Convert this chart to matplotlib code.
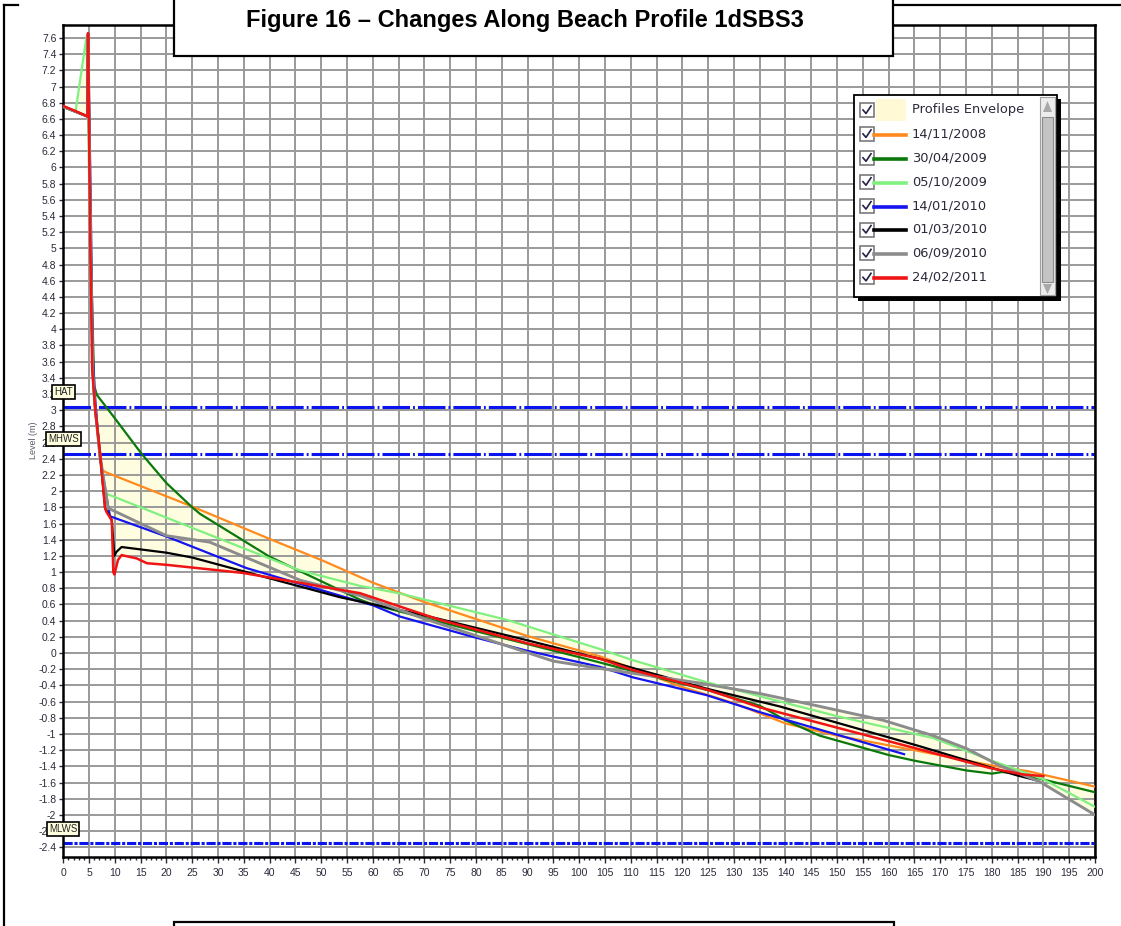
import numpy as np
import matplotlib
matplotlib.use("Agg")
import matplotlib.pyplot as plt
from matplotlib.patches import Rectangle, Polygon
from matplotlib.lines import Line2D
from matplotlib.ticker import MultipleLocator, FuncFormatter

# ---- profile data (chainage m, level m) ----
x_141108 = [0, 4.7, 4.8, 5.3, 5.8, 7.5, 8.4, 25, 40, 50, 60, 70, 90, 104, 120, 130, 140, 150, 165, 180, 187, 200]
y_141108 = [6.75, 6.63, 7.65, 5.0, 3.3, 2.26, 2.23, 1.81, 1.41, 1.15, 0.87, 0.63, 0.21, -0.04, -0.42, -0.62, -0.87, -1.02, -1.2, -1.39, -1.46, -1.65]

x_300409 = [0, 4.7, 4.8, 5.3, 6.0, 6.5, 10, 15.2, 20, 25, 26.5, 40, 57.5, 60, 80, 100, 115, 125, 135, 140, 146.6, 160, 165, 175, 180, 182, 186, 200]
y_300409 = [6.75, 6.63, 7.65, 5.0, 3.3, 3.19, 2.9, 2.46, 2.1, 1.8, 1.72, 1.19, 0.66, 0.6, 0.27, -0.05, -0.3, -0.46, -0.65, -0.83, -1.02, -1.26, -1.33, -1.45, -1.49, -1.47, -1.5, -1.72]

x_051009 = [0, 2.4, 4.5, 4.9, 5.5, 5.9, 7.0, 7.8, 8.7, 28.4, 45.9, 57.5, 65, 86, 104, 110, 124.7, 139, 150, 168.6, 179.6, 190, 200]
y_051009 = [6.75, 6.7, 7.62, 6.2, 4.0, 3.2, 2.45, 2.0, 1.96, 1.46, 1.02, 0.83, 0.74, 0.41, 0.05, -0.08, -0.36, -0.6, -0.78, -1.05, -1.32, -1.56, -1.9]

x_140110 = [0, 4.7, 4.8, 5.3, 5.7, 6.1, 7.1, 8.7, 9.05, 20, 35.5, 53.6, 60, 65.3, 79.4, 89.8, 104, 110.4, 124.7, 135, 163]
y_140110 = [6.75, 6.63, 7.65, 5.6, 3.7, 3.21, 2.42, 1.81, 1.69, 1.44, 1.05, 0.71, 0.59, 0.45, 0.2, 0.03, -0.17, -0.3, -0.52, -0.73, -1.25]

x_010310 = [0, 4.7, 4.8, 5.3, 5.7, 6.2, 7.1, 8.1, 9.4, 9.9, 10.3, 11.3, 20, 25, 35.5, 53.6, 69.7, 89.8, 104, 124.7, 138.9, 165.4, 184.8, 188.5]
y_010310 = [6.75, 6.63, 7.65, 5.2, 3.5, 3.0, 2.48, 1.79, 1.64, 1.2, 1.25, 1.31, 1.24, 1.18, 1.0, 0.69, 0.47, 0.16, -0.07, -0.44, -0.66, -1.14, -1.51, -1.57]

x_060910 = [0, 4.7, 4.8, 5.3, 5.7, 6.2, 7.1, 8.7, 20, 28.4, 45.9, 57.5, 69.7, 95, 104, 123.3, 135, 146, 158.9, 168.6, 175.1, 181.5, 189.3, 200]
y_060910 = [6.75, 6.63, 7.65, 5.2, 3.5, 3.0, 2.45, 1.79, 1.45, 1.37, 0.9, 0.71, 0.43, -0.1, -0.19, -0.37, -0.5, -0.65, -0.83, -1.02, -1.18, -1.39, -1.59, -2.0]

x_240211 = [0, 2.6, 4.7, 4.8, 5.2, 5.6, 6.2, 7.1, 8.1, 8.4, 9.4, 9.7, 9.9, 10.6, 11.3, 14.2, 16.2, 20, 30.4, 34.8, 57.5, 73, 90, 104, 110.4, 124.7, 135, 165.4, 179.6, 186, 190]
y_240211 = [6.76, 6.69, 6.63, 7.66, 5.2, 3.5, 3.0, 2.48, 1.79, 1.74, 1.64, 1.0, 0.97, 1.15, 1.21, 1.17, 1.11, 1.09, 1.02, 0.99, 0.74, 0.41, 0.12, -0.07, -0.21, -0.45, -0.67, -1.18, -1.42, -1.5, -1.52]

dates = ["14/11/2008", "30/04/2009", "05/10/2009", "14/01/2010",
         "01/03/2010", "06/09/2010", "24/02/2011"]
colors = ["#ff8a1e", "#0a780a", "#80f080", "#1414f0", "#000000", "#8c8c8c", "#f01414"]
widths = [1.6, 1.6, 1.6, 1.6, 1.6, 2.1, 1.8]
profiles = [(x_141108, y_141108), (x_300409, y_300409), (x_051009, y_051009),
            (x_140110, y_140110), (x_010310, y_010310), (x_060910, y_060910),
            (x_240211, y_240211)]

# tidal levels
tide_names = ["HAT", "MHWS", "MLWS"]
tide_levels = [3.04, 2.46, -2.35]

W, H = 1121, 926


def fx(px):
    return px / W


def fy(py):
    return 1 - py / H


fig = plt.figure(figsize=(W / 100, H / 100), dpi=100)
ax = fig.add_axes([fx(63.3), fy(857), (1095 - 63.3) / W, (857 - 25) / H])

# envelope of all profiles
grid = np.linspace(0, 200, 10001)
stack = []
for px_, py_ in profiles:
    v = np.interp(grid, px_, py_)
    v[(grid < px_[0]) | (grid > px_[-1])] = np.nan
    stack.append(v)
stack = np.array(stack)
ax.fill_between(grid, np.nanmin(stack, axis=0), np.nanmax(stack, axis=0),
                color="#fffde0", lw=0, zorder=1)

# tide lines
ax.axhline(tide_levels[0], color="#0a14f0", lw=2.2, ls=(0, (9, 1, 0.6, 1)), zorder=2)
ax.axhline(tide_levels[1], color="#0a14f0", lw=2.2, ls=(0, (9, 1, 0.6, 1)), zorder=2)
ax.axhline(tide_levels[2], color="#0a14f0", lw=2.2, ls=(0, (3, 0.6, 1, 0.6)), zorder=2)

for (px_, py_), c, lw in zip(profiles, colors, widths):
    ax.plot(px_, py_, color=c, lw=lw, zorder=3, solid_joinstyle="round")

ax.set_xlim(0, 200)
ax.set_ylim(-2.52, 7.76)
ax.xaxis.set_major_locator(MultipleLocator(5))
ax.xaxis.set_minor_locator(MultipleLocator(1))
ax.yaxis.set_major_locator(MultipleLocator(0.2))
ax.yaxis.set_major_formatter(FuncFormatter(lambda v, p: "%g" % (round(v, 1) + 0.0)))
ax.grid(True, which="major", color="#9a9a9a", lw=1.4)
ax.tick_params(axis="both", which="major", labelsize=7.5, colors="#2a2a3a",
               length=3, width=1, pad=2)
ax.tick_params(axis="x", which="minor", length=2.5, width=1, colors="#2a2a3a")
ax.tick_params(axis="x", which="major", length=4, pad=4)
for lab in ax.get_xticklabels() + ax.get_yticklabels():
    lab.set_family("Liberation Sans")
for s in ax.spines.values():
    s.set_linewidth(1.8)
    s.set_color("black")

# tide labels
for name, lev in zip(tide_names, tide_levels):
    ax.text(0.0, lev + 0.18, name, transform=ax.get_yaxis_transform(),
            ha="center", va="center", fontsize=7, family="Liberation Sans",
            color="#222222", zorder=6, clip_on=False,
            bbox=dict(boxstyle="square,pad=0.2", fc="#ffffe0", ec="black", lw=1.2))

fig.text(fx(33), fy(440), "Level (m)", rotation=90, ha="center", va="center",
         fontsize=6.5, color="#5a5a6a", family="Liberation Sans")

# page frame
fig.add_artist(Line2D([fx(4), fx(4)], [fy(5), fy(926)], color="black", lw=1.6))
fig.add_artist(Line2D([fx(4), fx(18)], [fy(5), fy(5)], color="black", lw=1.6))
fig.add_artist(Line2D([fx(893), fx(1121)], [fy(5), fy(5)], color="black", lw=1.6))

# title box
fig.add_artist(Rectangle((fx(174), fy(56)), fx(893) - fx(174), fy(-10) - fy(56),
                         fc="white", ec="black", lw=1.6, zorder=5))
fig.text(fx(525), fy(20), "Figure 16 \u2013 Changes Along Beach Profile 1dSBS3",
         ha="center", va="center", fontsize=17, fontweight="bold",
         family="Liberation Sans", zorder=6)

# bottom box
fig.add_artist(Rectangle((fx(174), fy(940)), fx(894) - fx(174), fy(922) - fy(940),
                         fc="white", ec="black", lw=1.6, zorder=5))

# legend panel
lx0, lx1, ly0, ly1 = 854, 1057, 95, 297
fig.add_artist(Rectangle((fx(lx0 + 4), fy(ly1 + 4)), fx(lx1) - fx(lx0), fy(ly0) - fy(ly1),
                         fc="black", ec="none", zorder=5))
fig.add_artist(Rectangle((fx(lx0), fy(ly1)), fx(lx1) - fx(lx0), fy(ly0) - fy(ly1),
                         fc="white", ec="black", lw=1.3, zorder=6))
# scrollbar
fig.add_artist(Rectangle((fx(1040), fy(295)), fx(1055) - fx(1040), fy(97) - fy(295),
                         fc="#ececec", ec="#a0a0a0", lw=0.8, zorder=7))
fig.add_artist(Rectangle((fx(1042), fy(282)), fx(1053) - fx(1042), fy(117) - fy(282),
                         fc="#c4c4c4", ec="#8c8c8c", lw=0.8, zorder=7))
fig.add_artist(Polygon([[fx(1043), fy(112)], [fx(1052), fy(112)], [fx(1047.5), fy(101)]],
                       fc="#a8a8a8", ec="none", zorder=8))
fig.add_artist(Polygon([[fx(1043), fy(284)], [fx(1052), fy(284)], [fx(1047.5), fy(294)]],
                       fc="#a8a8a8", ec="none", zorder=8))

legend_labels = ["Profiles Envelope"] + dates
for i, lab in enumerate(legend_labels):
    ry = 110 + i * 23.9
    # checkbox
    fig.add_artist(Rectangle((fx(860), fy(ry + 7)), fx(874) - fx(860), fy(ry - 7) - fy(ry + 7),
                             fc="white", ec="#7a7a7a", lw=1.2, zorder=7))
    fig.add_artist(Line2D([fx(863), fx(866), fx(871)], [fy(ry), fy(ry + 3.5), fy(ry - 4)],
                          color="#222244", lw=1.2, zorder=8))
    if i == 0:
        fig.add_artist(Rectangle((fx(876), fy(ry + 11)), fx(906) - fx(876), fy(ry - 11) - fy(ry + 11),
                                 fc="#fff9d6", ec="none", zorder=7))
    else:
        fig.add_artist(Line2D([fx(874), fx(906)], [fy(ry + 1), fy(ry + 1)],
                              color=colors[i - 1], lw=2.6, zorder=8))
    fig.text(fx(912), fy(ry), lab, ha="left", va="center", fontsize=9.4,
             color="#2a2a3a", family="DejaVu Sans", zorder=8)

fig.savefig("out.png", dpi=100)
